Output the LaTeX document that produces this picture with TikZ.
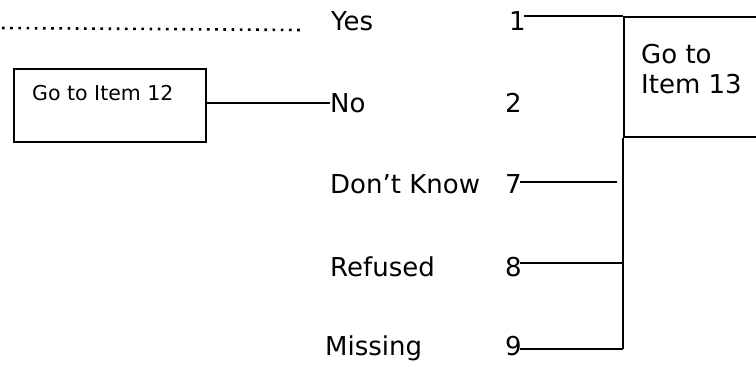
\documentclass[tikz,border=0pt]{standalone}
\usepackage{fontspec}
\setmainfont{DejaVu Sans}
\begin{document}
\begin{tikzpicture}[x=1pt,y=-1pt,
  lbl/.style={anchor=base west,inner sep=0pt,font=\fontsize{26}{30}\selectfont},
  small/.style={anchor=base west,inner sep=0pt,font=\fontsize{20.5}{24}\selectfont},
  conn/.style={line width=1.9pt},
  boxed/.style={draw,line width=1.9pt,inner sep=0pt},
  dotleader/.style={line width=2.6pt,dash pattern=on 2.6pt off 5.6pt}]
\useasboundingbox (0,0) rectangle (756,367);
\clip (0,0) rectangle (756,367);
% left box
\node[boxed,minimum width=192pt,minimum height=73pt,anchor=north west] (b12) at (13,68) {};
\node[small] (t12) at (32,100) {Go to Item 12};
% right box
\node[boxed,minimum width=170pt,minimum height=120pt,anchor=north west] (b13) at (623,16) {};
\node[lbl,align=left] (t13a) at (641,63) {Go to};
\node[lbl,align=left] (t13b) at (641,93) {Item 13};
% labels
\node[lbl] (yes) at (331,30) {Yes};
\node[lbl] (no) at (330,112) {No};
\node[lbl] (dk) at (330,193) {Don’t Know};
\node[lbl] (ref) at (330,276) {Refused};
\node[lbl] (mis) at (325,355) {Missing};
\node[lbl] (n1) at (509,30) {1};
\node[lbl] (n2) at (505,112) {2};
\node[lbl] (n7) at (505,193) {7};
\node[lbl] (n8) at (505,276) {8};
\node[lbl] (n9) at (505,355) {9};
% coordinates
\coordinate (d0) at (2,28);
\coordinate (vb) at (623,349);
\coordinate (c7) at (617,182);
\coordinate (c8) at (623,263);
\coordinate (c9) at (623,349);
% connectors
\draw[dotleader] (d0) -- ([xshift=-27pt]yes.base west);
\draw[conn] ([xshift=-2pt]n1.east |- b13.north west) -- (b13.north west);
\draw[conn] (b13.south west) -- (vb);
\draw[conn] (no.west) -- (no.west -| b12.east);
\draw[conn] ([xshift=-2pt]n7.east |- c7) -- (c7);
\draw[conn] ([xshift=-2pt]n8.east |- c8) -- (c8);
\draw[conn] ([xshift=-2pt]n9.east |- c9) -- (c9);
\end{tikzpicture}
\end{document}
